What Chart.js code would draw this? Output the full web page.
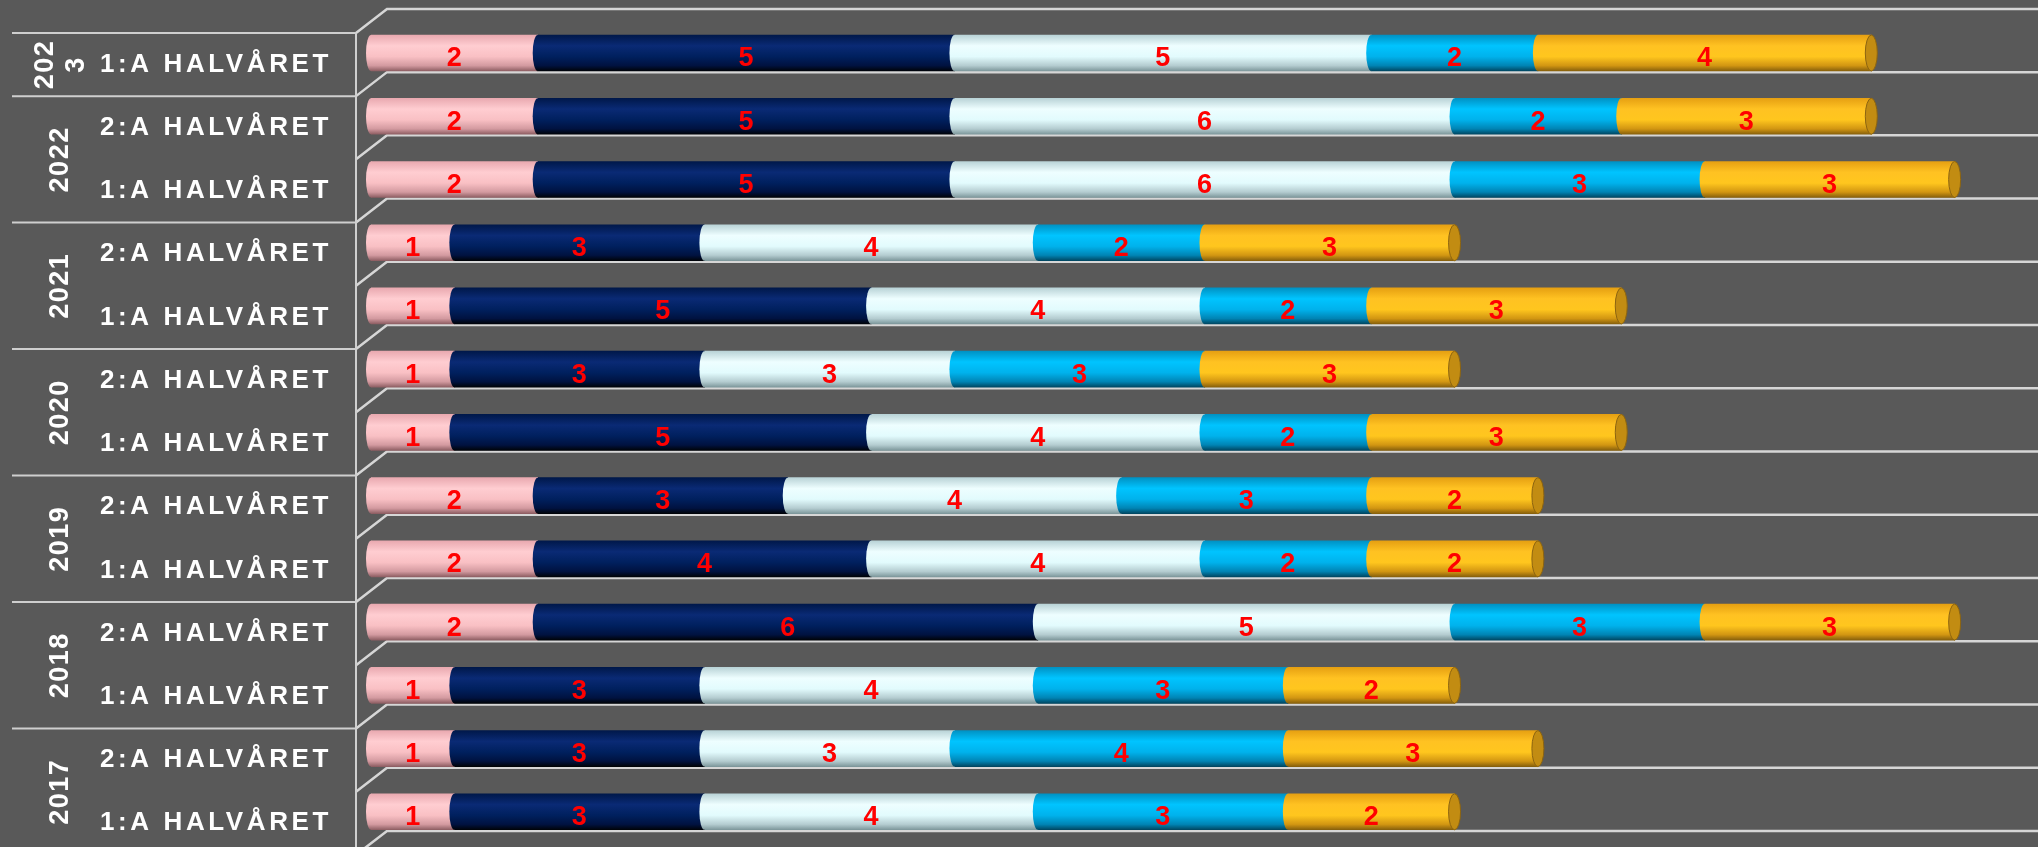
<!DOCTYPE html>
<html>
<head>
<meta charset="utf-8">
<script src="https://cdn.jsdelivr.net/npm/chart.js@4.4.0/dist/chart.umd.min.js"></script>
<style>
    html, body { margin: 0; padding: 0; background: #595959; overflow: hidden; }
    #wrap { width: 2038px; height: 847px; position: relative; }
</style>
</head>
<body>
<div id="wrap"><canvas id="barchart"></canvas></div>
<script>
'use strict'

// rader uppifrån och ner
const halves = ['1:A HALVÅRET',
    '2:A HALVÅRET', '1:A HALVÅRET',
    '2:A HALVÅRET', '1:A HALVÅRET',
    '2:A HALVÅRET', '1:A HALVÅRET',
    '2:A HALVÅRET', '1:A HALVÅRET',
    '2:A HALVÅRET', '1:A HALVÅRET',
    '2:A HALVÅRET', '1:A HALVÅRET'];
const years = ['2023', '2022', '2021', '2020', '2019', '2018', '2017'];
const yearRows = [1, 2, 2, 2, 2, 2, 2];

const serie1 = [2, 2, 2, 1, 1, 1, 1, 2, 2, 2, 1, 1, 1];
const serie2 = [5, 5, 5, 3, 5, 3, 5, 3, 4, 6, 3, 3, 3];
const serie3 = [5, 6, 6, 4, 4, 3, 4, 4, 4, 5, 4, 3, 4];
const serie4 = [2, 2, 3, 2, 2, 3, 2, 3, 2, 3, 3, 4, 3];
const serie5 = [4, 3, 3, 3, 3, 3, 3, 2, 2, 3, 2, 3, 2];

// cylinder-toning: topp -> ljus -> mitt -> mörk -> kant
const stopPos = [0, 0.3, 0.6, 0.85, 1];
const tones = [
    ['#e9a9b0', '#ffcdd1', '#f9c0c4', '#d39aa0', '#8e5e63'],
    ['#00184a', '#0a2a75', '#00205e', '#001240', '#000308'],
    ['#b9d3d7', '#eefeff', '#e2fbfd', '#b4ccd0', '#7d979b'],
    ['#0092c4', '#00c4ff', '#00b2ec', '#0084b4', '#004762'],
    ['#e6a012', '#ffc222', '#ffc61e', '#d29612', '#87600c']
];

const BAR = 36;
const AXIS_X = 356, BACK_X = 387;
const FRONT_DY = 11.5, BACK_DY = -12.5;

function cylinder(t) {
    return function (context) {
        const chart = context.chart;
        const yScale = chart.scales && chart.scales.y;
        if (!chart.chartArea || !yScale || context.type !== 'data') return t[2];
        const yc = yScale.getPixelForValue(context.dataIndex);
        const g = chart.ctx.createLinearGradient(0, yc - BAR / 2, 0, yc + BAR / 2);
        stopPos.forEach(function (p, i) { g.addColorStop(p, t[i]); });
        return g;
    };
}

const series = [serie1, serie2, serie3, serie4, serie5];
const datasets = series.map(function (s, i) {
    return {
        label: 'Serie ' + (i + 1),
        data: s,
        backgroundColor: cylinder(tones[i]),
        borderWidth: 0,
        barThickness: BAR
    };
});

const decor = {
    id: 'decor',
    beforeDatasetsDraw: function (chart) {
        const ctx = chart.ctx;
        const y = chart.scales.y;
        const pitch = y.getPixelForValue(1) - y.getPixelForValue(0);
        const n = halves.length;
        ctx.save();
        ctx.strokeStyle = '#d6d6d6';
        ctx.lineWidth = 2.5;
        ctx.beginPath();
        for (let i = 0; i <= n; i++) {
            const b = y.getPixelForValue(i) - pitch / 2;
            ctx.moveTo(AXIS_X, b + FRONT_DY);
            ctx.lineTo(BACK_X, b + BACK_DY);
            ctx.lineTo(chart.width, b + BACK_DY);
        }
        ctx.stroke();
        // axel + årsavgränsare
        ctx.lineWidth = 2;
        ctx.strokeStyle = '#cfcfcf';
        ctx.beginPath();
        const top = y.getPixelForValue(0) - pitch / 2 + FRONT_DY;
        ctx.moveTo(AXIS_X, top);
        ctx.lineTo(AXIS_X, chart.height);
        let k = 0;
        for (let g = 0; g <= yearRows.length; g++) {
            const b = y.getPixelForValue(k) - pitch / 2 + FRONT_DY;
            ctx.moveTo(12, b);
            ctx.lineTo(AXIS_X, b);
            if (g < yearRows.length) k += yearRows[g];
        }
        ctx.stroke();
        ctx.restore();
    },
    afterDatasetsDraw: function (chart) {
        const ctx = chart.ctx;
        const last = chart.data.datasets.length - 1;
        ctx.save();
        chart.data.datasets.forEach(function (ds, d) {
            chart.getDatasetMeta(d).data.forEach(function (el) {
                const h = el.height / 2;
                // rundad vänsterkant på varje segment
                ctx.beginPath();
                ctx.ellipse(el.base, el.y, 5, h, 0, 0, Math.PI * 2);
                ctx.fillStyle = el.options.backgroundColor;
                ctx.fill();
                if (d === last) {
                    ctx.beginPath();
                    ctx.ellipse(el.x, el.y, 6, h, 0, 0, Math.PI * 2);
                    ctx.fillStyle = '#c28c12';
                    ctx.fill();
                    ctx.strokeStyle = '#8c6410';
                    ctx.lineWidth = 1;
                    ctx.stroke();
                }
            });
        });
        // värden
        ctx.fillStyle = '#ff0000';
        ctx.font = 'bold 27px "Liberation Sans", Arial, sans-serif';
        ctx.textAlign = 'center';
        ctx.textBaseline = 'middle';
        chart.data.datasets.forEach(function (ds, d) {
            chart.getDatasetMeta(d).data.forEach(function (el, i) {
                ctx.fillText(String(ds.data[i]), (el.x + el.base) / 2, el.y + 6);
            });
        });
        ctx.restore();
    },
    afterDraw: function (chart) {
        const ctx = chart.ctx;
        const y = chart.scales.y;
        ctx.save();
        ctx.fillStyle = '#ffffff';
        ctx.textBaseline = 'middle';
        ctx.textAlign = 'left';
        ctx.font = 'bold 26px "Liberation Sans", Arial, sans-serif';
        ctx.letterSpacing = '3.6px';
        halves.forEach(function (lab, i) {
            ctx.fillText(lab, 100, y.getPixelForValue(i) + FRONT_DY);
        });
        // år, roterade
        ctx.font = 'bold 27px "Liberation Sans", Arial, sans-serif';
        ctx.letterSpacing = '1.5px';
        ctx.textAlign = 'center';
        const pitch = y.getPixelForValue(1) - y.getPixelForValue(0);
        let k = 0;
        years.forEach(function (yr, g) {
            const rows = yearRows[g];
            const cy = (y.getPixelForValue(k) + y.getPixelForValue(k + rows - 1)) / 2 + FRONT_DY;
            const maxW = rows * pitch - 6;
            const lines = [];
            let cur = '';
            for (const ch of yr) {
                if (cur && ctx.measureText(cur + ch).width > maxW) { lines.push(cur); cur = ch; }
                else cur += ch;
            }
            lines.push(cur);
            const lh = 31;
            lines.forEach(function (ln, j) {
                const cx = 60 + (j - (lines.length - 1) / 2) * lh;
                ctx.save();
                ctx.translate(cx, cy);
                ctx.rotate(-Math.PI / 2);
                ctx.fillText(ln, 0, 1);
                ctx.restore();
            });
            k += rows;
        });
        ctx.restore();
    }
};

const chart = new Chart(document.getElementById('barchart'), {
    type: 'bar',
    data: { labels: halves, datasets: datasets },
    options: {
        indexAxis: 'y',
        responsive: true,
        maintainAspectRatio: false,
        animation: false,
        layout: { padding: { left: 371, right: -5, top: 21.4, bottom: 3.6 } },
        scales: {
            x: { stacked: true, display: false, min: 0, max: 20 },
            y: { stacked: true, display: false }
        },
        plugins: {
            legend: { display: false },
            tooltip: { enabled: false }
        }
    },
    plugins: [decor]
});
</script>
</body>
</html>
